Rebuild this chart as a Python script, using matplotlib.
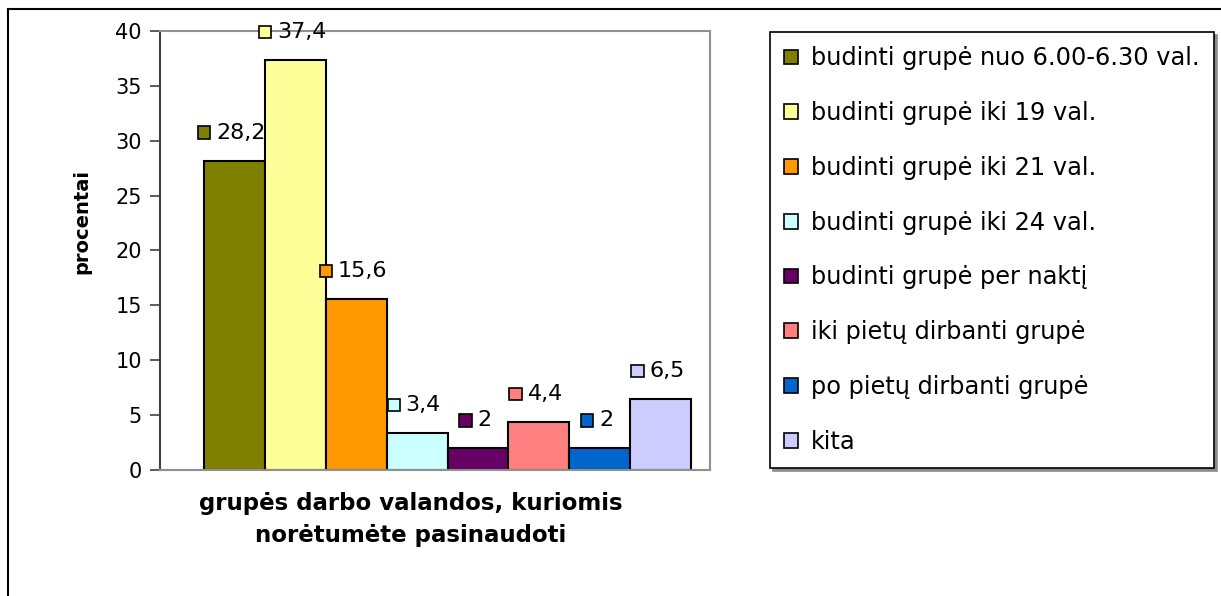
import matplotlib
matplotlib.use("Agg")
import matplotlib.pyplot as plt
from matplotlib.lines import Line2D
from matplotlib.patches import Rectangle
from matplotlib.offsetbox import AnnotationBbox, DrawingArea, TextArea, HPacker

# data
categories = ["budinti grupė nuo 6.00-6.30 val.",
              "budinti grupė iki 19 val.",
              "budinti grupė iki 21 val.",
              "budinti grupė iki 24 val.",
              "budinti grupė per naktį",
              "iki pietų dirbanti grupė",
              "po pietų dirbanti grupė",
              "kita"]
values = [28.2, 37.4, 15.6, 3.4, 2, 4.4, 2, 6.5]
value_labels = ["28,2", "37,4", "15,6", "3,4", "2", "4,4", "2", "6,5"]
colors = ["#808000", "#FFFF99", "#FF9900", "#CCFFFF",
          "#660066", "#FF8080", "#0066CC", "#CCCCFF"]
yticks = [0, 5, 10, 15, 20, 25, 30, 35, 40]

W, H = 1221, 596
fig = plt.figure(figsize=(W / 100, H / 100), dpi=100)
ax = fig.add_axes([160 / W, 1 - 470 / H, 550 / W, 439 / H])

bars = []
for i, (cat, v, c) in enumerate(zip(categories, values, colors)):
    b = ax.bar(i, v, width=1.0, color=c, edgecolor="black", linewidth=1.5, label=cat)
    bars.append(b[0])

    # value label: small colour square + number, centred over the bar
    da = DrawingArea(9, 9, 0, 0)
    da.add_artist(Rectangle((0, 0), 9, 9, facecolor=c, edgecolor="black", linewidth=1.2))
    ta = TextArea(value_labels[i], textprops=dict(fontsize=16, color="black"))
    box = HPacker(children=[da, ta], align="center", pad=0, sep=4)
    ab = AnnotationBbox(box, (i, v), xybox=(-2, 20), xycoords="data",
                        boxcoords="offset points", frameon=False,
                        box_alignment=(0.5, 0.5), annotation_clip=False)
    ax.add_artist(ab)

ax.set_xlim(-1.222, 7.81)
ax.set_ylim(0, 40)
ax.set_yticks(yticks)
ax.set_xticks([])
ax.tick_params(axis="y", labelsize=15, length=7, width=1.2, color="#404040", pad=6)

ax.spines["left"].set_color("#404040")
ax.spines["left"].set_linewidth(1.5)
for s in ["top", "right", "bottom"]:
    ax.spines[s].set_color("#909090")
    ax.spines[s].set_linewidth(1.5)

ax.set_ylabel("procentai", fontsize=14, fontweight="bold")
ax.yaxis.set_label_coords(-0.142, 0.565)
ax.yaxis.label.set_va("center")

ax.set_xlabel("grupės darbo valandos, kuriomis\nnorėtumėte pasinaudoti",
              fontsize=16.5, fontweight="bold", linespacing=1.5)
ax.xaxis.set_label_coords(0.456, -0.05)

leg = fig.legend(handles=bars, labels=categories, loc="upper left",
                 bbox_to_anchor=(770 / W, 1 - 32 / H), borderaxespad=0,
                 fontsize=17.3, handlelength=0.56, handleheight=0.56,
                 handletextpad=0.55, labelspacing=1.28, borderpad=0.6,
                 fancybox=False, frameon=True,
                 shadow={"color": "0.55", "alpha": 1})
leg.get_frame().set_edgecolor("black")
leg.get_frame().set_linewidth(1.2)
for h in leg.legend_handles:
    h.set_linewidth(1.2)

# outer chart border (top and left edges visible)
fig.add_artist(Line2D([8 / W, 1.0], [1 - 9 / H, 1 - 9 / H], color="black", linewidth=1.5))
fig.add_artist(Line2D([8 / W, 8 / W], [0, 1 - 9 / H], color="black", linewidth=1.5))

fig.savefig("out.png", dpi=100)
